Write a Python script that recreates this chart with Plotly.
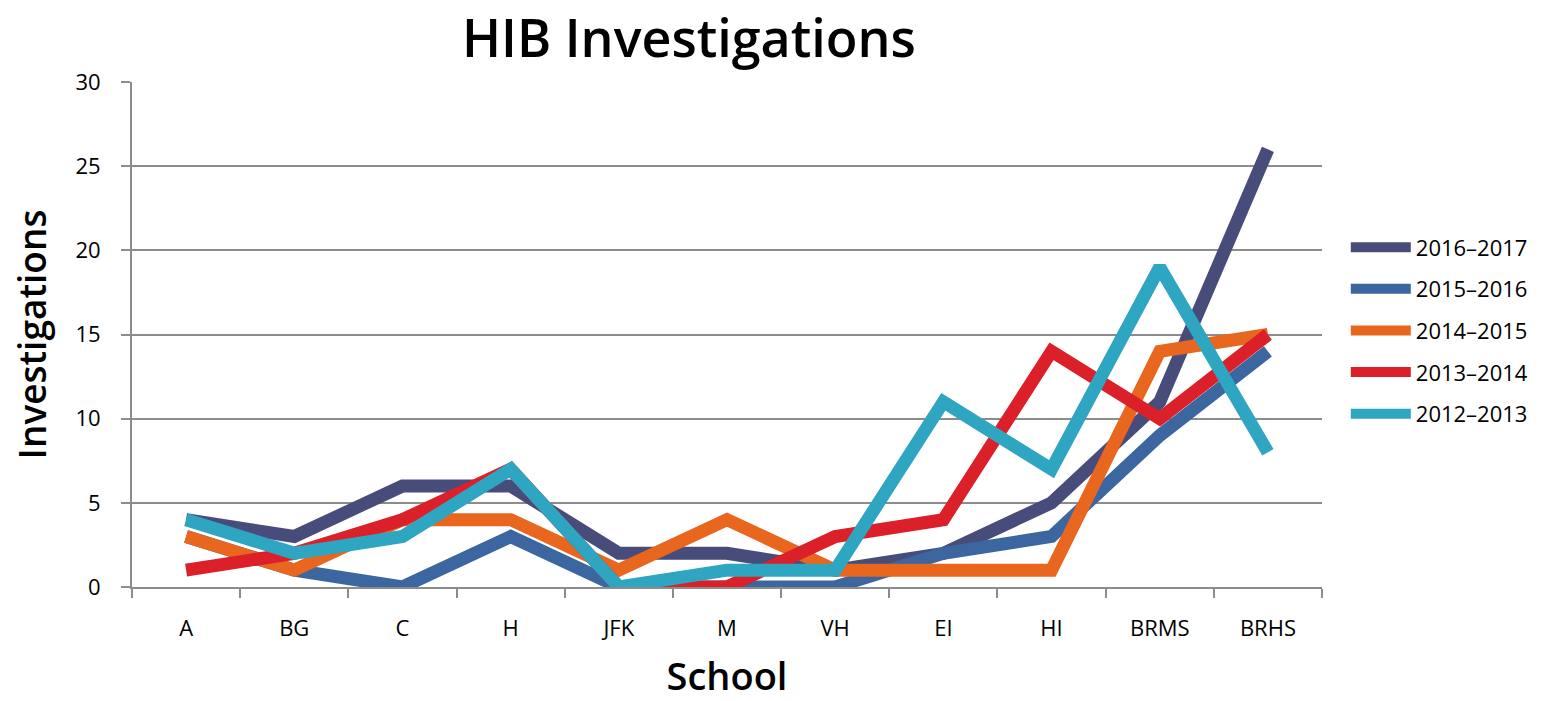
import plotly.graph_objects as go

schools = ["A", "BG", "C", "H", "JFK", "M", "VH", "EI", "HI", "BRMS", "BRHS"]
y2016_2017 = [4, 3, 6, 6, 2, 2, 1, 2, 5, 11, 26]
y2015_2016 = [3, 1, 0, 3, 0, 0, 0, 2, 3, 9, 14]
y2014_2015 = [3, 1, 4, 4, 1, 4, 1, 1, 1, 14, 15]
y2013_2014 = [1, 2, 4, 7, 0, 0, 3, 4, 14, 10, 15]
y2012_2013 = [4, 2, 3, 7, 0, 1, 1, 11, 7, 19, 8]

series = [
    ("2016–2017", y2016_2017, "#474c7a"),
    ("2015–2016", y2015_2016, "#3b66a0"),
    ("2014–2015", y2014_2015, "#e8661e"),
    ("2013–2014", y2013_2014, "#db2029"),
    ("2012–2013", y2012_2013, "#2ea5c1"),
]

FONT = "Open Sans"

fig = go.Figure()
for name, vals, color in series:
    fig.add_trace(go.Scatter(
        x=schools, y=vals, name=name, mode="lines",
        line=dict(color=color, width=13),
        legendgroup=name,
    ))

fig.update_layout(
    width=1550, height=701,
    margin=dict(l=132, r=228, t=82, b=114, autoexpand=False),
    paper_bgcolor="white", plot_bgcolor="white",
    font=dict(family=FONT, color="black", size=22),
    title=dict(text="HIB Investigations", x=0.4445, xanchor="center",
               y=0.944, yanchor="middle",
               font=dict(family=FONT, size=52, color="black", weight=600)),
    legend=dict(x=1.02, y=0.714, xanchor="left", yanchor="top",
                font=dict(family=FONT, size=22, color="black"),
                tracegroupgap=10, itemwidth=60, bgcolor="rgba(0,0,0,0)"),
    showlegend=True,
)

fig.update_xaxes(
    type="category", range=[-0.5, 10.5], automargin=False,
    showline=True, linecolor="#8c8c8c", linewidth=2,
    ticks="outside", ticklen=9, tickcolor="#8c8c8c", tickwidth=2,
    tickson="boundaries", showgrid=False,
    ticklabelstandoff=21,
    tickfont=dict(family=FONT, size=22, color="black"),
    title=dict(text="School", standoff=30,
               font=dict(family=FONT, size=38, color="black", weight=600)),
)
fig.update_yaxes(
    range=[0, 30], dtick=5, tick0=0, automargin=False,
    showline=True, linecolor="#8c8c8c", linewidth=2,
    ticks="outside", ticklen=9, tickcolor="#8c8c8c", tickwidth=2,
    showgrid=True, gridcolor="#8c8c8c", gridwidth=2,
    zeroline=False,
    ticklabelstandoff=16,
    tickfont=dict(family=FONT, size=22, color="black"),
    title=dict(text="Investigations", standoff=17,
               font=dict(family=FONT, size=37, color="black", weight=600)),
)

fig.write_html("out.html", config={"displayModeBar": False},
               post_script="document.body.style.margin='0';document.body.style.padding='0';")
